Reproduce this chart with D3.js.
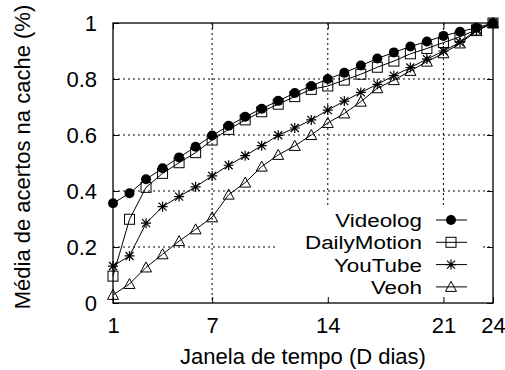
<!DOCTYPE html>
<html>
<head>
    <meta charset="utf-8">
    <script src="https://d3js.org/d3.v7.min.js" charset="utf-8"></script>
    <style>
        body { margin: 0; background: #fff; }
        text { font-family: "Liberation Sans", Arial, sans-serif; font-size: 22px; fill: #000; }
    </style>
</head>
<body>
    <div id="chart_container"></div>
    <script>
        // data: day window 1..24
        const days = d3.range(1, 25);
        const videolog = [0.356, 0.392, 0.442, 0.481, 0.520, 0.558, 0.598, 0.633, 0.665, 0.694, 0.722, 0.750,
            0.775, 0.800, 0.822, 0.848, 0.873, 0.895, 0.916, 0.934, 0.954, 0.969, 0.983, 1.0];
        const dailyMotion = [0.096, 0.299, 0.413, 0.463, 0.501, 0.537, 0.582, 0.620, 0.654, 0.683, 0.710, 0.737,
            0.763, 0.775, 0.796, 0.817, 0.842, 0.864, 0.890, 0.909, 0.930, 0.951, 0.975, 1.0];
        const youTube = [0.132, 0.168, 0.285, 0.344, 0.380, 0.415, 0.454, 0.492, 0.526, 0.562, 0.599, 0.625,
            0.654, 0.689, 0.721, 0.752, 0.781, 0.812, 0.841, 0.871, 0.900, 0.931, 0.975, 1.0];
        const veoh = [0.029, 0.068, 0.127, 0.174, 0.221, 0.263, 0.306, 0.387, 0.430, 0.487, 0.529, 0.561,
            0.600, 0.643, 0.677, 0.719, 0.767, 0.796, 0.829, 0.862, 0.892, 0.927, 0.971, 1.0];
        const seriesNames = ['Videolog', 'DailyMotion', 'YouTube', 'Veoh'];
        const seriesMarks = ['circle', 'square', 'star', 'triangle'];
        const xTicks = [1, 7, 14, 21, 24];
        const yTicks = [0, 0.2, 0.4, 0.6, 0.8, 1];
        const xGrid = [7, 14, 21];
        const yGrid = [0.2, 0.4, 0.6, 0.8];
        const xTitle = 'Janela de tempo (D dias)';
        const yTitle = 'Média de acertos na cache (%)';

        var width = 505, height = 370;
        var margin = { top: 23, right: 12, bottom: 67, left: 113 };
        var plotW = width - margin.left - margin.right,
            plotH = height - margin.top - margin.bottom;

        const svg = d3.select('#chart_container').append('svg')
            .attr('width', width).attr('height', height);
        const g = svg.append('g').attr('transform', `translate(${margin.left},${margin.top})`);

        const x = d3.scaleLinear().domain([1, 24]).range([0, plotW]);
        const y = d3.scaleLinear().domain([0, 1]).range([plotH, 0]);

        // dotted grid
        g.selectAll('.gx').data(xGrid).enter().append('line')
            .attr('x1', d => x(d)).attr('x2', d => x(d)).attr('y1', 0).attr('y2', plotH)
            .attr('stroke', '#000').attr('stroke-dasharray', '2,3');
        g.selectAll('.gy').data(yGrid).enter().append('line')
            .attr('y1', d => y(d)).attr('y2', d => y(d)).attr('x1', 0).attr('x2', plotW)
            .attr('stroke', '#000').attr('stroke-dasharray', '2,3');

        // key area hides the grid behind it
        g.append('rect').attr('x', 164).attr('y', 185).attr('width', 203).attr('height', plotH - 185)
            .attr('fill', '#fff');

        // axes, ticks inward and mirrored
        const tk = 6;
        g.append('g').attr('transform', `translate(0,${plotH})`)
            .call(d3.axisBottom(x).tickValues(xTicks).tickSizeInner(-tk).tickSizeOuter(0).tickPadding(14));
        g.append('g').call(d3.axisTop(x).tickValues(xTicks).tickSizeInner(-tk).tickSizeOuter(0).tickFormat(''));
        g.append('g')
            .call(d3.axisLeft(y).tickValues(yTicks).tickSizeInner(-tk).tickSizeOuter(0).tickPadding(16).tickFormat(d3.format('')));
        g.append('g').attr('transform', `translate(${plotW},0)`)
            .call(d3.axisRight(y).tickValues(yTicks).tickSizeInner(-tk).tickSizeOuter(0).tickFormat(''));
        g.selectAll('.domain').remove();
        g.selectAll('.tick line').attr('stroke', '#000');
        g.selectAll('.tick text').style('font-size', '22px').attr('fill', '#000');
        g.append('rect').attr('width', plotW).attr('height', plotH)
            .attr('fill', 'none').attr('stroke', '#000').attr('stroke-width', 1.3);

        // markers
        function drawMark(sel, kind) {
            if (kind == 'circle') {
                sel.append('circle').attr('r', 5).attr('fill', '#000');
            } else if (kind == 'square') {
                sel.append('rect').attr('x', -5).attr('y', -5).attr('width', 10).attr('height', 10)
                    .attr('fill', 'none').attr('stroke', '#000');
            } else if (kind == 'star') {
                sel.append('path').attr('d', 'M-5,0H5M0,-5V5M-4,-4L4,4M-4,4L4,-4')
                    .attr('fill', 'none').attr('stroke', '#000').attr('stroke-width', 1.2);
            } else {
                sel.append('path').attr('d', 'M0,-5.5L5.5,4.5L-5.5,4.5Z')
                    .attr('fill', 'none').attr('stroke', '#000');
            }
        }

        const allSeries = [videolog, dailyMotion, youTube, veoh];
        const line = d3.line().x((d, i) => x(days[i])).y(d => y(d));

        allSeries.forEach((vals, s) => {
            g.append('path').datum(vals).attr('d', line)
                .attr('fill', 'none').attr('stroke', '#000').attr('stroke-width', 1);
            g.selectAll('.m' + s).data(vals).enter().append('g')
                .attr('transform', (d, i) => `translate(${x(days[i])},${y(d)})`)
                .each(function () { drawMark(d3.select(this), seriesMarks[s]); });
        });

        // key (text is a bit wide and short in the original, so stretch it)
        const key = g.append('g');
        seriesNames.forEach((name, i) => {
            const ky = 197 + i * 22.3;
            key.append('text').attr('transform', `translate(309,${ky + 7}) scale(1.18,1)`)
                .attr('text-anchor', 'end').style('font-size', '19px').text(name);
            key.append('line').attr('x1', 323).attr('x2', 354).attr('y1', ky).attr('y2', ky)
                .attr('stroke', '#000');
            drawMark(key.append('g').attr('transform', `translate(338,${ky})`), seriesMarks[i]);
        });

        // axis titles
        svg.append('text').attr('x', 303).attr('y', 364).attr('text-anchor', 'middle').text(xTitle);
        svg.append('text').attr('transform', 'translate(30,157) rotate(-90)')
            .attr('text-anchor', 'middle').text(yTitle);
    </script>
</body>
</html>
